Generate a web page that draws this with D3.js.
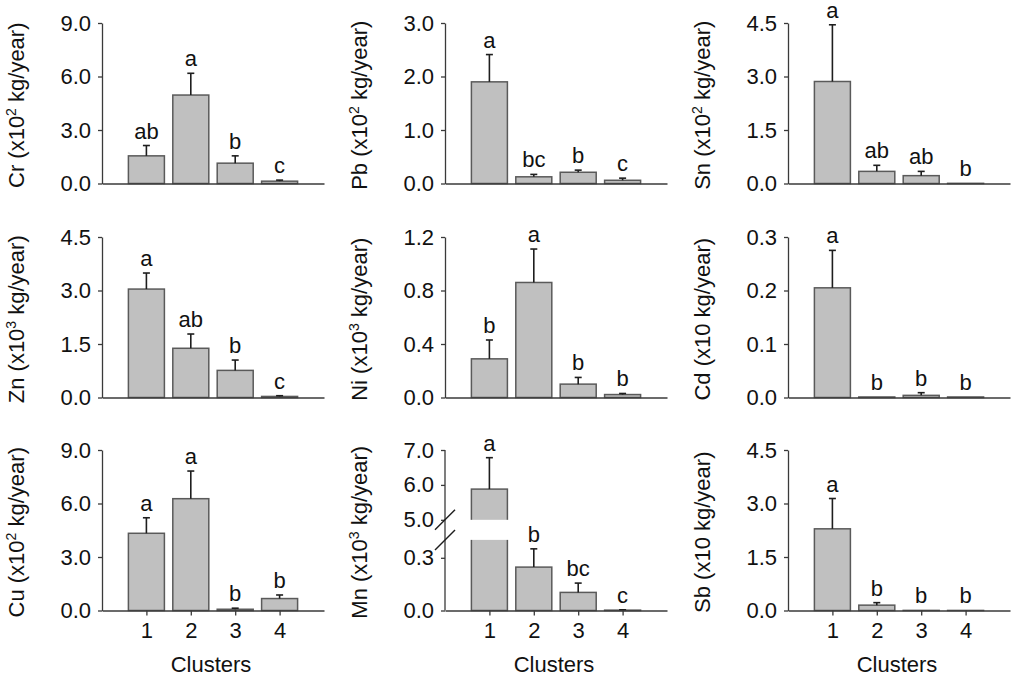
<!DOCTYPE html>
<html>
<head>
<meta charset="utf-8">
<script src="https://cdn.jsdelivr.net/npm/d3@7/dist/d3.min.js"></script>
<style>
  html, body { margin: 0; padding: 0; background: #fff; }
  svg { display: block; font-family: "Liberation Sans", Arial, Helvetica, sans-serif; }
</style>
</head>
<body>
<svg id="chart" width="1024" height="686"></svg>
<script>
// ---------- data ----------
const clusters = [1, 2, 3, 4];

const crMean = [1.55, 4.96, 1.14, 0.13];
const crSE   = [0.58, 1.22, 0.41, 0.06];
const crLetters = ["ab", "a", "b", "c"];
const crTicks = [0, 3, 6, 9];

const pbMean = [1.90, 0.125, 0.21, 0.06];
const pbSE   = [0.51, 0.045, 0.04, 0.04];
const pbLetters = ["a", "bc", "b", "c"];
const pbTicks = [0, 1, 2, 3];

const snMean = [2.86, 0.34, 0.22, 0.005];
const snSE   = [1.59, 0.17, 0.12, 0.003];
const snLetters = ["a", "ab", "ab", "b"];
const snTicks = [0, 1.5, 3, 4.5];

const znMean = [3.04, 1.38, 0.76, 0.03];
const znSE   = [0.45, 0.40, 0.29, 0.02];
const znLetters = ["a", "ab", "b", "c"];
const znTicks = [0, 1.5, 3, 4.5];

const niMean = [0.289, 0.86, 0.10, 0.022];
const niSE   = [0.141, 0.25, 0.05, 0.008];
const niLetters = ["b", "a", "b", "b"];
const niTicks = [0, 0.4, 0.8, 1.2];

const cdMean = [0.205, 0.001, 0.004, 0.001];
const cdSE   = [0.070, 0.0005, 0.005, 0.0005];
const cdLetters = ["a", "b", "b", "b"];
const cdTicks = [0, 0.1, 0.2, 0.3];

const cuMean = [4.33, 6.27, 0.07, 0.67];
const cuSE   = [0.87, 1.55, 0.06, 0.20];
const cuLetters = ["a", "a", "b", "b"];
const cuTicks = [0, 3, 6, 9];

const mnMean = [5.88, 0.247, 0.103, 0.002];
const mnSE   = [0.90, 0.104, 0.053, 0.002];
const mnLetters = ["a", "b", "bc", "c"];
const mnLowTicks = [0, 0.3];
const mnHighTicks = [5, 6, 7];
const mnLowDomain = [0, 0.402];
const mnHighDomain = [5, 7];

const sbMean = [2.29, 0.15, 0.003, 0.002];
const sbSE   = [0.85, 0.07, 0, 0];
const sbLetters = ["a", "b", "b", "b"];
const sbTicks = [0, 1.5, 3, 4.5];

const xTitle = "Clusters";

// ---------- layout ----------
const colX = [102, 445, 788];
const rowTop = [23, 237, 450];
const plotW = 222;
const plotH = 160.5;
const fontSize = 22;
const axisColor = "#3a3a3a";
const barFill = "#c0c0c0";
const barStroke = "#5a5a5a";

const panels = [
  {el: "Cr", pre: "x10", sup: "2", mean: crMean, se: crSE, letters: crLetters, ticks: crTicks, col: 0, row: 0},
  {el: "Pb", pre: "x10", sup: "2", mean: pbMean, se: pbSE, letters: pbLetters, ticks: pbTicks, col: 1, row: 0},
  {el: "Sn", pre: "x10", sup: "2", mean: snMean, se: snSE, letters: snLetters, ticks: snTicks, col: 2, row: 0},
  {el: "Zn", pre: "x10", sup: "3", mean: znMean, se: znSE, letters: znLetters, ticks: znTicks, col: 0, row: 1},
  {el: "Ni", pre: "x10", sup: "3", mean: niMean, se: niSE, letters: niLetters, ticks: niTicks, col: 1, row: 1},
  {el: "Cd", pre: "x10", sup: "",  mean: cdMean, se: cdSE, letters: cdLetters, ticks: cdTicks, col: 2, row: 1},
  {el: "Cu", pre: "x10", sup: "2", mean: cuMean, se: cuSE, letters: cuLetters, ticks: cuTicks, col: 0, row: 2},
  {el: "Mn", pre: "x10", sup: "3", mean: mnMean, se: mnSE, letters: mnLetters, broken: true, col: 1, row: 2},
  {el: "Sb", pre: "x10", sup: "",  mean: sbMean, se: sbSE, letters: sbLetters, ticks: sbTicks, col: 2, row: 2}
];

const svg = d3.select("#chart");
const fmt = d3.format(".1f");

panels.forEach(p => {
  const x0 = colX[p.col], yTop = rowTop[p.row], yBot = yTop + plotH;
  const g = svg.append("g");

  const x = d3.scaleLinear().domain([0, 5]).range([x0, x0 + plotW]);
  const bw = 36;

  let yOf, yLow, yHigh, gapTop, gapBot;
  if (p.broken) {
    gapBot = yBot - 0.44 * plotH;
    gapTop = yBot - 0.565 * plotH;
    yLow = d3.scaleLinear().domain(mnLowDomain).range([yBot, gapBot]);
    yHigh = d3.scaleLinear().domain(mnHighDomain).range([gapTop, yTop]);
    yOf = v => v <= mnLowDomain[1] ? yLow(v) : yHigh(v);
  } else {
    const y = d3.scaleLinear().domain([0, d3.max(p.ticks)]).range([yBot, yTop]);
    yOf = v => y(v);
    p.yScale = y;
  }

  // bars
  g.selectAll("rect.bar").data(clusters).join("rect")
    .attr("class", "bar")
    .attr("x", (c) => x(c) - bw / 2)
    .attr("width", bw)
    .attr("y", (c, i) => yOf(p.mean[i]))
    .attr("height", (c, i) => Math.max(0, yBot - yOf(p.mean[i])))
    .attr("fill", barFill)
    .attr("stroke", barStroke)
    .attr("stroke-width", 1.5);

  // error bars + letters
  clusters.forEach((c, i) => {
    const top = yOf(p.mean[i] + p.se[i]);
    const base = yOf(p.mean[i]);
    if (base - top > 0.3) {
      g.append("line").attr("x1", x(c)).attr("x2", x(c)).attr("y1", base).attr("y2", top)
        .attr("stroke", "#1e1e1e").attr("stroke-width", 1.6);
      g.append("line").attr("x1", x(c) - 3.5).attr("x2", x(c) + 3.5).attr("y1", top).attr("y2", top)
        .attr("stroke", "#1e1e1e").attr("stroke-width", 1.6);
    }
    g.append("text")
      .attr("x", x(c)).attr("y", top - 7)
      .attr("text-anchor", "middle")
      .attr("font-size", fontSize).attr("fill", "#111")
      .text(p.letters[i]);
  });

  // broken-axis gap
  if (p.broken) {
    g.append("rect")
      .attr("x", x(1) - bw / 2 - 2).attr("width", bw + 4)
      .attr("y", gapTop).attr("height", gapBot - gapTop)
      .attr("fill", "#fff");
  }

  // x axis
  const xAxis = d3.axisBottom(x)
    .tickValues(p.row === 2 ? clusters : [])
    .tickSize(5).tickSizeOuter(0).tickPadding(7)
    .tickFormat(d3.format("d"));
  const gx = g.append("g").attr("transform", `translate(0,${yBot})`).call(xAxis);
  gx.selectAll("path,line").attr("stroke", axisColor).attr("stroke-width", 1.3);
  gx.selectAll("text").attr("font-size", fontSize).attr("fill", "#111").attr("font-family", null);

  // y axis
  if (p.broken) {
    const a1 = d3.axisLeft(yLow).tickValues(mnLowTicks).tickSize(4).tickPadding(7).tickFormat(fmt);
    const a2 = d3.axisLeft(yHigh).tickValues(mnHighTicks).tickSize(4).tickPadding(7).tickFormat(fmt);
    [a1, a2].forEach(a => {
      const gy = g.append("g").attr("transform", `translate(${x0},0)`).call(a);
      gy.select(".domain").remove();
      gy.selectAll("line").attr("stroke", axisColor).attr("stroke-width", 1.3);
      gy.selectAll("text").attr("font-size", fontSize).attr("fill", "#111").attr("font-family", null);
    });
    g.append("line").attr("x1", x0).attr("x2", x0).attr("y1", yTop).attr("y2", yBot)
      .attr("stroke", axisColor).attr("stroke-width", 1.3);
    [gapTop, gapBot].forEach(yy => {
      g.append("line")
        .attr("x1", x0 - 10).attr("y1", yy + 10)
        .attr("x2", x0 + 10).attr("y2", yy - 10)
        .attr("stroke", "#1e1e1e").attr("stroke-width", 1.4);
    });
  } else {
    const yAxis = d3.axisLeft(p.yScale).tickValues(p.ticks).tickSize(4).tickSizeOuter(0).tickPadding(7).tickFormat(fmt);
    const gy = g.append("g").attr("transform", `translate(${x0},0)`).call(yAxis);
    gy.selectAll("path,line").attr("stroke", axisColor).attr("stroke-width", 1.3);
    gy.selectAll("text").attr("font-size", fontSize).attr("fill", "#111").attr("font-family", null);
  }

  // y title
  const cy = (yTop + yBot) / 2 + 2;
  const tx = x0 - 78;
  const t = g.append("text")
    .attr("transform", `translate(${tx},${cy}) rotate(-90)`)
    .attr("text-anchor", "middle")
    .attr("font-size", fontSize).attr("fill", "#111");
  t.append("tspan").text(`${p.el} (${p.pre}`);
  if (p.sup) {
    t.append("tspan").attr("font-size", 14).attr("dy", -8).text(p.sup);
    t.append("tspan").attr("dy", 8).text(" kg/year)");
  } else {
    t.append("tspan").text(" kg/year)");
  }

  // x title
  if (p.row === 2) {
    g.append("text")
      .attr("x", x0 + plotW / 2 - 2).attr("y", 672)
      .attr("text-anchor", "middle")
      .attr("font-size", fontSize).attr("fill", "#111")
      .text(xTitle);
  }
});
</script>
</body>
</html>
